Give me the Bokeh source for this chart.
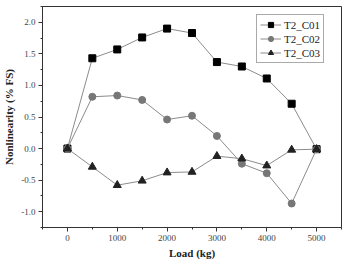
from bokeh.plotting import figure
from bokeh.models import Range1d, Legend, LegendItem, FixedTicker, CustomJSTickFormatter
from bokeh.embed import file_html
from bokeh.resources import INLINE

load = [0, 500, 1000, 1500, 2000, 2500, 3000, 3500, 4000, 4500, 5000]
t2_c01 = [0.0, 1.43, 1.57, 1.76, 1.90, 1.83, 1.37, 1.30, 1.11, 0.71, -0.01]
t2_c02 = [0.0, 0.82, 0.84, 0.77, 0.46, 0.52, 0.20, -0.24, -0.39, -0.87, -0.01]
t2_c03 = [0.0, -0.29, -0.58, -0.51, -0.38, -0.37, -0.12, -0.16, -0.27, -0.02, -0.01]

x_ticks = [0, 1000, 2000, 3000, 4000, 5000]
y_ticks = [-1.0, -0.5, 0.0, 0.5, 1.0, 1.5, 2.0]

FONT = "Liberation Serif"
LINE = "#8c8c8c"

p = figure(width=344, height=262, output_backend="svg", toolbar_location=None,
           x_range=Range1d(-500, 5500), y_range=Range1d(-1.25, 2.25),
           min_border_left=42, min_border_right=3, min_border_top=6, min_border_bottom=35)
p.background_fill_color = "white"
p.border_fill_color = "white"
p.outline_line_color = "#333333"
p.outline_line_width = 1
p.xgrid.visible = False
p.ygrid.visible = False

r1l = p.line(load, t2_c01, line_color=LINE, line_width=1)
r1m = p.scatter(load, t2_c01, marker="square", size=7, fill_color="black", line_color="black")
r2l = p.line(load, t2_c02, line_color=LINE, line_width=1)
r2m = p.scatter(load, t2_c02, marker="circle", size=7, fill_color="#777777", line_color="#777777")
r3l = p.line(load, t2_c03, line_color=LINE, line_width=1)
r3m = p.scatter(load, t2_c03, marker="triangle", size=8, fill_color="#222222", line_color="#222222")

for ax in (p.xaxis[0], p.yaxis[0]):
    ax.axis_line_color = "#333333"
    ax.major_tick_line_color = "#333333"
    ax.minor_tick_line_color = "#333333"
    ax.major_tick_out = 4
    ax.major_tick_in = 0
    ax.minor_tick_out = 2
    ax.minor_tick_in = 0
    ax.major_label_text_font = FONT
    ax.major_label_text_font_size = "9px"
    ax.major_label_text_color = "#444444"
    ax.axis_label_text_font = FONT
    ax.axis_label_text_font_style = "bold"
    ax.axis_label_text_font_size = "11px"
    ax.axis_label_text_color = "#222222"

p.xaxis[0].ticker = FixedTicker(ticks=x_ticks, minor_ticks=[-500, 500, 1500, 2500, 3500, 4500, 5500])
p.yaxis[0].ticker = FixedTicker(ticks=y_ticks, minor_ticks=[-1.25, -0.75, -0.25, 0.25, 0.75, 1.25, 1.75, 2.25])
p.yaxis[0].formatter = CustomJSTickFormatter(code="return tick.toFixed(1);")
p.xaxis[0].axis_label = "Load (kg)"
p.yaxis[0].axis_label = "Nonlinearity (% FS)"
p.xaxis[0].major_label_standoff = 3
p.xaxis[0].axis_label_standoff = 3
p.yaxis[0].major_label_standoff = 3
p.yaxis[0].axis_label_standoff = 3

legend = Legend(items=[
    LegendItem(label="T2_C01", renderers=[r1l, r1m]),
    LegendItem(label="T2_C02", renderers=[r2l, r2m]),
    LegendItem(label="T2_C03", renderers=[r3l, r3m]),
], location=(214, 164))
legend.label_text_font = FONT
legend.label_text_font_size = "11px"
legend.label_text_color = "#222222"
legend.border_line_color = "#555555"
legend.border_line_width = 1
legend.background_fill_alpha = 1
legend.glyph_width = 21
legend.glyph_height = 13
legend.label_height = 13
legend.spacing = 1
legend.padding = 3
legend.margin = 0
legend.label_standoff = 3
p.add_layout(legend, "center")

open("out.html", "w").write(file_html(p, INLINE))
